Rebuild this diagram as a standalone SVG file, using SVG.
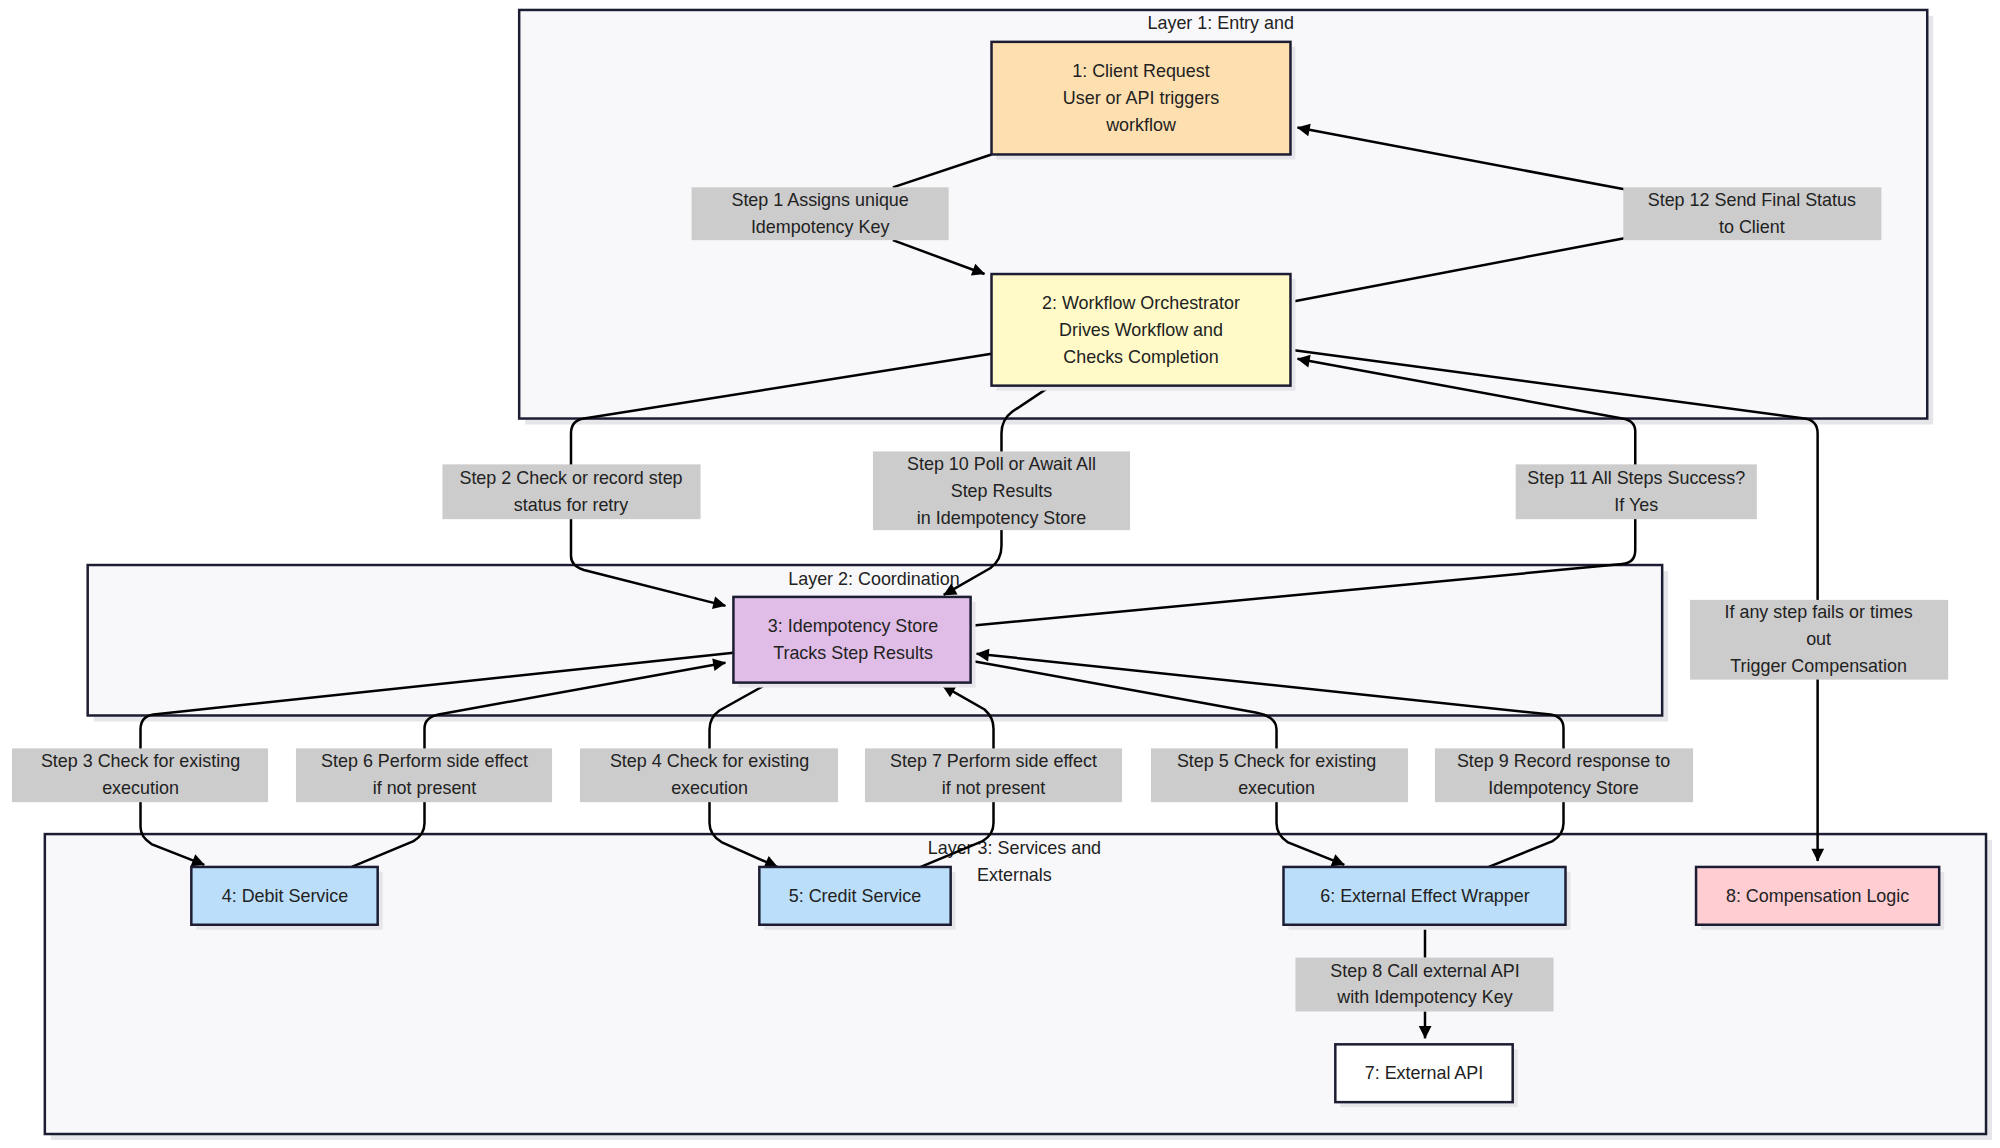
<svg xmlns="http://www.w3.org/2000/svg" width="2000" height="1148" viewBox="0 0 2000 1148">
<style>
text{font-family:"Liberation Sans",Arial,sans-serif;font-size:18px;fill:#222;text-anchor:middle}
.layer{fill:#f8f8fb;stroke:#1c1c33;stroke-width:2.5}
.node{stroke:#1c1c33;stroke-width:2.5}
.lbl{fill:#cccccc}
.e{fill:none;stroke:#000;stroke-width:2.5}
.sh{fill:#e6e6ea}
</style>
<defs>
<marker id="a" viewBox="0 0 10 10" refX="9" refY="5" markerWidth="8" markerHeight="8" markerUnits="userSpaceOnUse" orient="auto" overflow="visible"><path d="M0,0 L10,5 L0,10 z" fill="#000" transform="scale(1.6) translate(-4,-2)"/></marker>
</defs>
<rect width="2000" height="1148" fill="#fff"/>
<g transform="scale(0.9965)">
<g id="layers">
<rect class="sh" x="527" y="16" width="1413" height="410"/>
<rect class="layer" x="521" y="10" width="1413" height="410"/>
<text x="1225" y="29">Layer 1: Entry and</text>
<rect class="sh" x="94" y="573" width="1580" height="151"/>
<rect class="layer" x="88" y="567" width="1580" height="151"/>
<text x="877" y="587">Layer 2: Coordination</text>
<rect class="sh" x="51" y="843" width="1948" height="301"/>
<rect class="layer" x="45" y="837" width="1948" height="301"/>
<text x="1018" y="857">Layer 3: Services and</text>
<text x="1018" y="884">Externals</text>
</g>
<g id="edges">
<path class="e" d="M995,155 L896,188"/>
<path class="e" d="M896,241 L988,275" marker-end="url(#a)"/>
<path class="e" d="M1295,303 L1630,239"/>
<path class="e" d="M1630,190 L1302,128" marker-end="url(#a)"/>
<path class="e" d="M995,355 L586,420 Q573,422 573,435 L573,558 Q573,568 586,572 L728,608" marker-end="url(#a)"/>
<path class="e" d="M1055,387 L1016,413 Q1005,421 1005,435 L1005,548 Q1005,562 994,570 L947,597" marker-end="url(#a)"/>
<path class="e" d="M974,628 L1628,566 Q1641,565 1641,552 L1641,433 Q1641,422 1628,420 L1302,360" marker-end="url(#a)"/>
<path class="e" d="M1295,351 L1811,420 Q1824,422 1824,435 L1824,864" marker-end="url(#a)"/>
<path class="e" d="M736,655 L154,717 Q141,719 141,732 L141,830 Q141,840 152,847 L205,868" marker-end="url(#a)"/>
<path class="e" d="M353,870 L415,844 Q426,838 426,826 L426,731 Q426,720 440,717 L728,665" marker-end="url(#a)"/>
<path class="e" d="M772,685 L722,713 Q712,720 712,732 L712,826 Q712,838 724,845 L780,870" marker-end="url(#a)"/>
<path class="e" d="M924,870 L986,844 Q997,838 997,826 L997,731 Q997,720 988,712 L946,688" marker-end="url(#a)"/>
<path class="e" d="M974,663 L1260,715 Q1281,719 1281,732 L1281,826 Q1281,838 1292,845 L1349,868" marker-end="url(#a)"/>
<path class="e" d="M1494,870 L1558,844 Q1569,838 1569,826 L1569,731 Q1569,719 1556,717 L980,656" marker-end="url(#a)"/>
<path class="e" d="M1430,928 L1430,961"/>
<path class="e" d="M1430,1015 L1430,1042" marker-end="url(#a)"/>
</g>
<g id="labels">
<rect class="lbl" x="694" y="188" width="258" height="53"/><text x="823" y="207">Step 1 Assigns unique</text><text x="823" y="234">Idempotency Key</text>
<rect class="lbl" x="1629" y="188" width="259" height="53"/><text x="1758" y="207">Step 12 Send Final Status</text><text x="1758" y="234">to Client</text>
<rect class="lbl" x="444" y="466" width="259" height="55"/><text x="573" y="486">Step 2 Check or record step</text><text x="573" y="513">status for retry</text>
<rect class="lbl" x="876" y="453" width="258" height="79"/><text x="1005" y="472">Step 10 Poll or Await All</text><text x="1005" y="499">Step Results</text><text x="1005" y="526">in Idempotency Store</text>
<rect class="lbl" x="1521" y="466" width="242" height="55"/><text x="1642" y="486">Step 11 All Steps Success?</text><text x="1642" y="513">If Yes</text>
<rect class="lbl" x="1696" y="602" width="259" height="80"/><text x="1825" y="620">If any step fails or times</text><text x="1825" y="647">out</text><text x="1825" y="674">Trigger Compensation</text>
<rect class="lbl" x="12" y="751" width="257" height="54"/><text x="141" y="770">Step 3 Check for existing</text><text x="141" y="797">execution</text>
<rect class="lbl" x="297" y="751" width="257" height="54"/><text x="426" y="770">Step 6 Perform side effect</text><text x="426" y="797">if not present</text>
<rect class="lbl" x="582" y="751" width="259" height="54"/><text x="712" y="770">Step 4 Check for existing</text><text x="712" y="797">execution</text>
<rect class="lbl" x="868" y="751" width="258" height="54"/><text x="997" y="770">Step 7 Perform side effect</text><text x="997" y="797">if not present</text>
<rect class="lbl" x="1155" y="751" width="258" height="54"/><text x="1281" y="770">Step 5 Check for existing</text><text x="1281" y="797">execution</text>
<rect class="lbl" x="1440" y="751" width="259" height="54"/><text x="1569" y="770">Step 9 Record response to</text><text x="1569" y="797">Idempotency Store</text>
<rect class="lbl" x="1300" y="961" width="259" height="54"/><text x="1430" y="980">Step 8 Call external API</text><text x="1430" y="1007">with Idempotency Key</text>
</g>
<g id="n1"><rect class="sh" x="1000" y="47" width="300" height="113"/><rect class="node" x="995" y="42" width="300" height="113" fill="#fee0b0"/><text x="1145" y="77">1: Client Request</text><text x="1145" y="104">User or API triggers</text><text x="1145" y="131">workflow</text></g>
<g id="n2"><rect class="sh" x="1000" y="280" width="300" height="112"/><rect class="node" x="995" y="275" width="300" height="112" fill="#fffac8"/><text x="1145" y="310">2: Workflow Orchestrator</text><text x="1145" y="337">Drives Workflow and</text><text x="1145" y="364">Checks Completion</text></g>
<g id="n3"><rect class="sh" x="741" y="604" width="238" height="86"/><rect class="node" x="736" y="599" width="238" height="86" fill="#e0bde6"/><text x="856" y="634">3: Idempotency Store</text><text x="856" y="661">Tracks Step Results</text></g>
<g id="n4"><rect class="sh" x="197" y="875" width="187" height="58"/><rect class="node" x="192" y="870" width="187" height="58" fill="#bbdefa"/><text x="286" y="905">4: Debit Service</text></g>
<g id="n5"><rect class="sh" x="767" y="875" width="192" height="58"/><rect class="node" x="762" y="870" width="192" height="58" fill="#bbdefa"/><text x="858" y="905">5: Credit Service</text></g>
<g id="n6"><rect class="sh" x="1293" y="875" width="283" height="58"/><rect class="node" x="1288" y="870" width="283" height="58" fill="#bbdefa"/><text x="1430" y="905">6: External Effect Wrapper</text></g>
<g id="n8"><rect class="sh" x="1707" y="875" width="244" height="58"/><rect class="node" x="1702" y="870" width="244" height="58" fill="#ffcdd2"/><text x="1824" y="905">8: Compensation Logic</text></g>
<g id="n7"><rect class="sh" x="1345" y="1053" width="178" height="58"/><rect class="node" x="1340" y="1048" width="178" height="58" fill="#fff"/><text x="1429" y="1083">7: External API</text></g>
</g>
</svg>
